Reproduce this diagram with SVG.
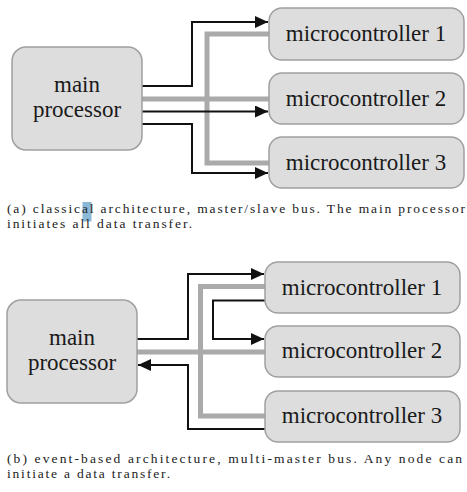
<svg xmlns="http://www.w3.org/2000/svg" width="467" height="492" viewBox="0 0 467 492">
<style>
.box{fill:#dddddd;stroke:#a0a0a0;stroke-width:1.5}
.lbl{font-size:23px;fill:#1a1a1a;text-anchor:middle}
.cap{font-size:13.5px;fill:#222}
.bus{fill:none;stroke:#aaaaaa;stroke-width:5}
.sig{fill:none;stroke:#111;stroke-width:2}
</style>
<defs>
<marker id="arr" markerUnits="userSpaceOnUse" markerWidth="14" markerHeight="12" refX="13" refY="6" orient="auto">
<path d="M0,0 L13,6 L0,12 z" fill="#111"/>
</marker>
</defs>
<rect x="82.5" y="202" width="9" height="19.5" fill="#8cb8d8"/>
<g id="connectors">
<path class="bus" d="M142,99 H269"/>
<path class="bus" d="M269,34 H207 V163 H269"/>
<path class="sig" d="M142,86 H192 V22 H268" marker-end="url(#arr)"/>
<path class="sig" d="M142,111.5 H268" marker-end="url(#arr)"/>
<path class="sig" d="M142,124 H192 V173 H268" marker-end="url(#arr)"/>
<path class="bus" d="M137,352 H265"/>
<path class="bus" d="M265,286.5 H200.5 V416 H265"/>
<path class="sig" d="M137,339 H188 V274 H264" marker-end="url(#arr)"/>
<path class="sig" d="M265,300.5 H213 V339 H264" marker-end="url(#arr)"/>
<path class="sig" d="M265,429 H188 V365 H138" marker-end="url(#arr)"/>
</g>
<g font-family="'Liberation Serif', 'Times New Roman', serif">
<g id="a-main"><rect class="box" x="12" y="47" width="130" height="103" rx="14"/><text class="lbl" x="77" y="92">main</text><text class="lbl" x="77" y="117">processor</text></g>
<g id="a-mc1"><rect class="box" x="269" y="8" width="195" height="52" rx="13"/><text class="lbl" x="366" y="41">microcontroller 1</text></g>
<g id="a-mc2"><rect class="box" x="269" y="73" width="195" height="51" rx="13"/><text class="lbl" x="366" y="105.5">microcontroller 2</text></g>
<g id="a-mc3"><rect class="box" x="269" y="137" width="195" height="51" rx="13"/><text class="lbl" x="366" y="170">microcontroller 3</text></g>
<g id="b-main"><rect class="box" x="7" y="300" width="130" height="103" rx="14"/><text class="lbl" x="72" y="345">main</text><text class="lbl" x="72" y="370">processor</text></g>
<g id="b-mc1"><rect class="box" x="265" y="262" width="195" height="51" rx="13"/><text class="lbl" x="362" y="294.5">microcontroller 1</text></g>
<g id="b-mc2"><rect class="box" x="265" y="326" width="195" height="51" rx="13"/><text class="lbl" x="362" y="358">microcontroller 2</text></g>
<g id="b-mc3"><rect class="box" x="265" y="391" width="195" height="51" rx="13"/><text class="lbl" x="362" y="423">microcontroller 3</text></g>
<g id="captions">
<text class="cap" x="7" y="213" textLength="458" lengthAdjust="spacing">(a) classical architecture, master/slave bus. The main processor</text>
<text class="cap" x="7" y="228" textLength="185" lengthAdjust="spacing">initiates all data transfer.</text>
<text class="cap" x="7" y="463" textLength="455" lengthAdjust="spacing">(b) event-based architecture, multi-master bus. Any node can</text>
<text class="cap" x="7" y="478" textLength="163" lengthAdjust="spacing">initiate a data transfer.</text>
</g>
</g>
</svg>
